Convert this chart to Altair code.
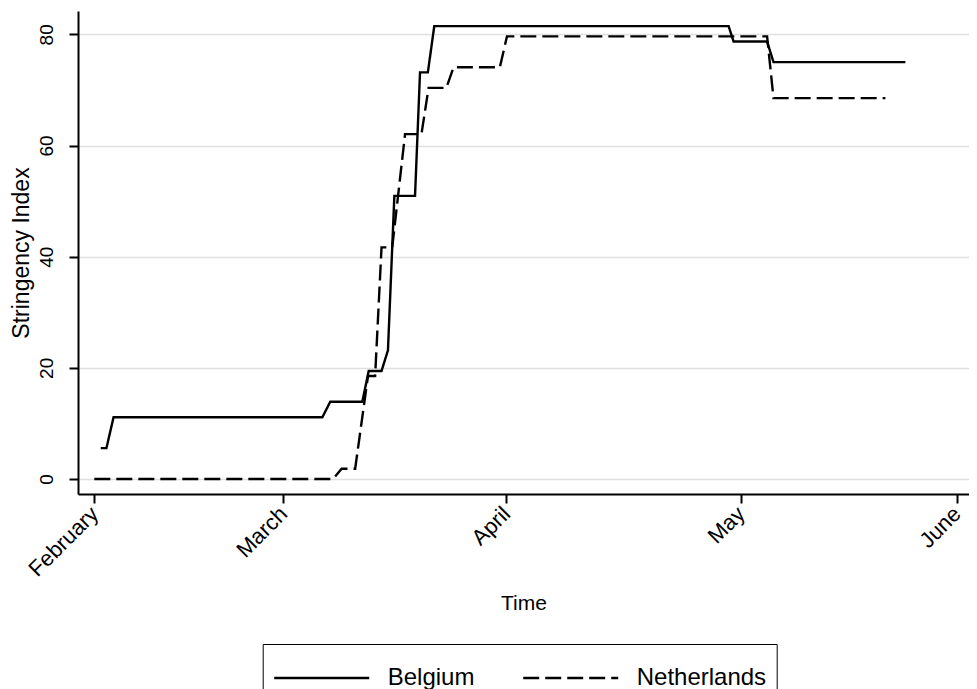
import altair as alt
import pandas as pd

countries = ["Belgium", "Netherlands"]

# x = days since 1 February 2020, y = stringency index
bel_day = [0.9, 1.7, 2.7, 32.0, 33.1, 37.6, 38.5, 40.3, 41.2, 42.1, 45.0, 45.7,
           46.8, 47.7, 89.0, 89.7, 94.4, 95.3, 113.8]
bel_val = [5.56, 5.56, 11.11, 11.11, 13.89, 13.89, 19.44, 19.44, 23.15, 50.93,
           50.93, 73.15, 73.15, 81.48, 81.48, 78.70, 78.70, 75.00, 75.00]

nld_day = [0.0, 33.5, 34.7, 36.6, 38.4, 39.4, 40.3, 41.8, 43.6, 45.9, 46.9, 49.4,
           50.4, 56.9, 57.9, 94.4, 95.3, 111.0]
nld_val = [0.0, 0.0, 1.85, 1.85, 18.52, 18.52, 41.67, 41.67, 62.04, 62.04, 70.37,
           70.37, 74.07, 74.07, 79.63, 79.63, 68.52, 68.52]

month_ticks = [0, 26.5, 57.8, 90.7, 121]
month_labels = ["February", "March", "April", "May", "June"]
y_ticks = [0, 20, 40, 60, 80]

df = pd.concat([
    pd.DataFrame({"day": bel_day, "value": bel_val, "country": countries[0]}),
    pd.DataFrame({"day": nld_day, "value": nld_val, "country": countries[1]}),
], ignore_index=True)

# label expression mapping tick values to month names
expr = "'" + month_labels[-1] + "'"
for i in range(len(month_ticks) - 2, -1, -1):
    mid = (month_ticks[i] + month_ticks[i + 1]) / 2
    expr = f"datum.value < {mid} ? '{month_labels[i]}' : " + expr

FONT = "Liberation Sans"

chart = alt.Chart(df).mark_line(
    color="black", strokeWidth=2.4, strokeCap="butt", strokeJoin="miter"
).encode(
    x=alt.X(
        "day:Q", title="Time",
        scale=alt.Scale(domain=[-2.29, 122.73], nice=False, zero=False),
        axis=alt.Axis(
            values=month_ticks, labelExpr=expr, labelAngle=-45,
            labelAlign="right", labelBaseline="middle", grid=False,
            labelFontSize=22, titleFontSize=21, labelPadding=7, titlePadding=12,
            tickSize=9,
        ),
    ),
    y=alt.Y(
        "value:Q", title="Stringency Index",
        scale=alt.Scale(domain=[-2.7, 84.2], nice=False, zero=False),
        axis=alt.Axis(
            values=y_ticks, labelAngle=-90, labelAlign="center",
            labelBaseline="bottom", grid=True, labelFontSize=19,
            titleFontSize=23, labelPadding=13, titlePadding=4, tickSize=9,
        ),
    ),
    strokeDash=alt.StrokeDash(
        "country:N",
        scale=alt.Scale(domain=countries, range=[[1, 0], [16, 6]]),
        legend=alt.Legend(
            orient="none", legendX=184.7, legendY=633, direction="horizontal",
            title=None, clipHeight=48,
            symbolType="stroke", symbolSize=9025, symbolStrokeWidth=2.4,
            symbolStrokeColor="black", labelFontSize=24, labelOffset=17,
            columnPadding=47, padding=10, strokeColor="black",
            fillColor="white", labelFont=FONT, labelColor="black",
        ),
    ),
).properties(
    width=891, height=483,
    autosize=alt.AutoSizeParams(type="none"),
    padding={"left": 70, "top": 3, "right": 0, "bottom": 206},
).configure_view(
    stroke=None
).configure_axis(
    domainColor="black", domainWidth=2, tickColor="black", tickWidth=2,
    labelColor="black", titleColor="black", labelFont=FONT, titleFont=FONT,
    titleFontWeight="normal", gridColor="#e0e0e0", gridWidth=1.5,
)

chart.save("out.html", embed_options={"renderer": "svg", "actions": False})
